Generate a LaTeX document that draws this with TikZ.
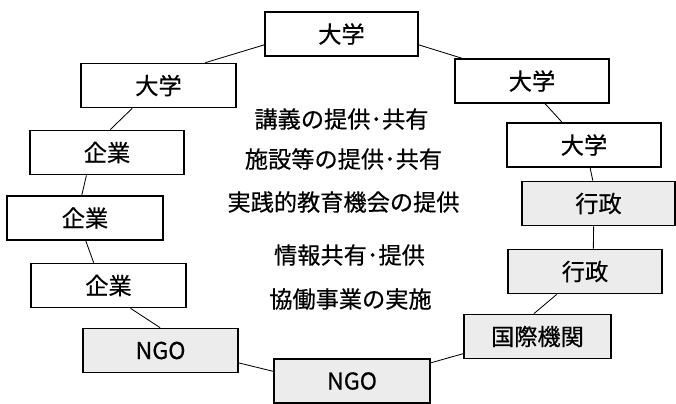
\documentclass[tikz,border=0pt]{standalone}
\usepackage{fontspec}
\setmainfont{Noto Sans CJK JP}[UprightFeatures={FakeBold=0.5}]

\begin{document}
\begin{tikzpicture}[x=0.025cm, y=-0.025cm, font=\fontsize{16.5}{19}\selectfont,
    box/.style={rectangle, draw=black, line width=1.2pt, minimum height=1.1cm, inner sep=0pt},
    whitebox/.style={box, fill=white},
    greybox/.style={box, fill=gray!15}]
    \useasboundingbox (0,0) rectangle (676,403);
    \foreach \x/\y/\t/\s/\w [count=\i] in {341.5/34/大学/whitebox/153, 158.5/85.5/大学/whitebox/155,
        107/152.5/企業/whitebox/154, 85/218/企業/whitebox/156, 108.5/285.5/企業/whitebox/155,
        160.5/350.5/NGO/greybox/155, 352/381/NGO/greybox/156, 537.5/336.5/国際機関/greybox/147,
        585/271.5/行政/greybox/154, 598.5/203.5/行政/greybox/153, 584/145/大学/whitebox/154,
        532/81/大学/whitebox/154} {
        \node[\s, minimum width=\w*0.025cm] (u\i) at (\x,\y) {\t};
    }
    \foreach \x/\y/\t [count=\i] in {341.5/119/講義の提供･共有, 343.5/159/施設等の提供･共有,
        343.5/202/実践的教育機会の提供, 349.5/255/情報共有･提供, 350.5/299/協働事業の実施} {
        \node (c\i) at (\x,\y) {\t};
    }
    \foreach \a/\p/\b/\q in {1/188/2/26, 2/221/3/82, 3/228/4/98, 4/272/5/123, 5/314/6/91, 6/351/7/173,
        7/13/8/193, 8/99/9/219, 9/70/10/258, 10/104/11/285, 11/134/12/300, 12/162/1/352} {
        \draw[line width=0.6pt] (u\a.\p) -- (u\b.\q);
    }
\end{tikzpicture}
\end{document}
